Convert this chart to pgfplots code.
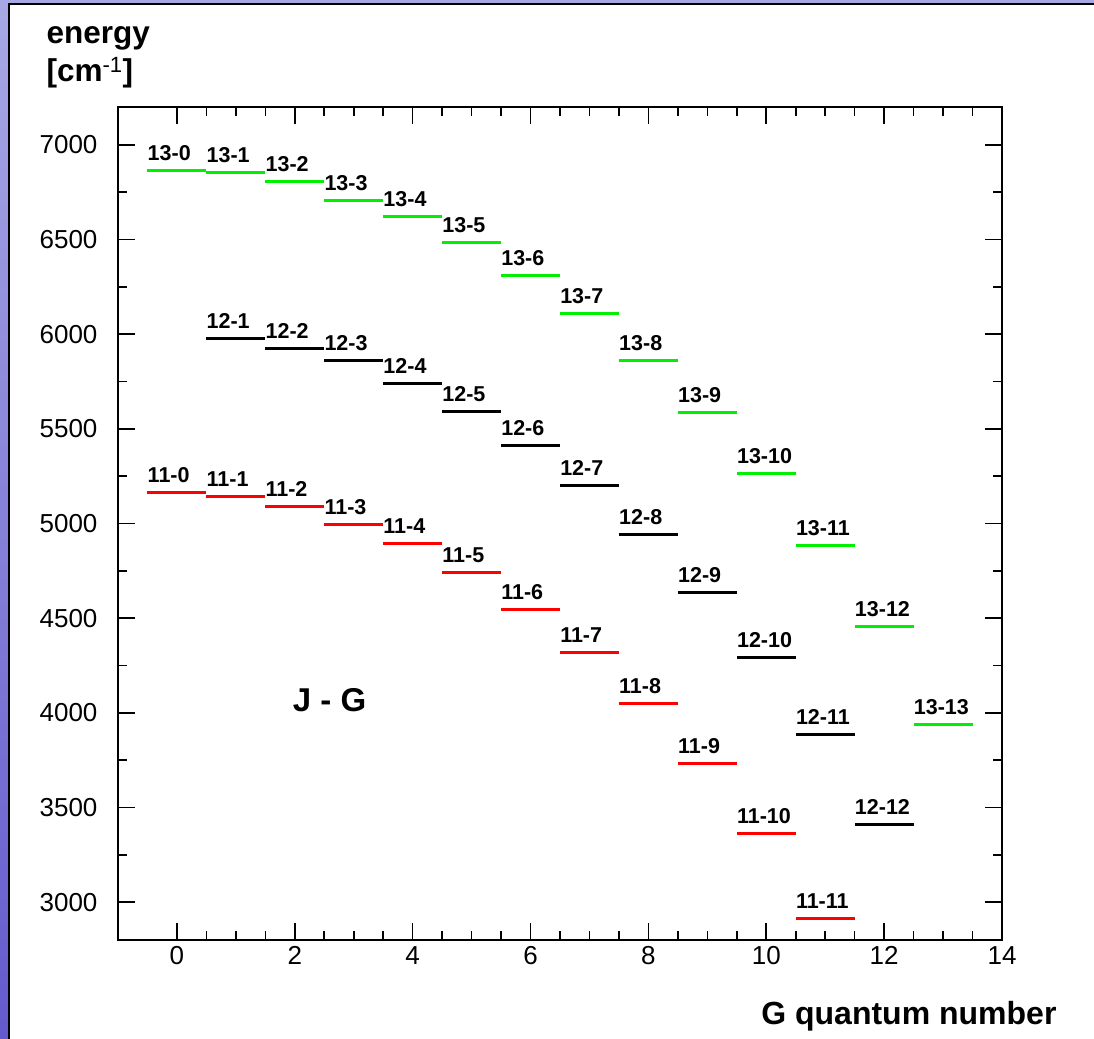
\documentclass[border=0pt]{standalone}
\usepackage{fontspec}
\setmainfont{Liberation Sans}
\usepackage{pgfplots}
\usepackage{pgfplotstable}
\pgfplotsset{compat=1.18}
\definecolor{lvgreen}{RGB}{0,240,0}
\definecolor{lvred}{RGB}{255,0,0}
\definecolor{bgtop}{RGB}{168,168,228}
\definecolor{bgbot}{RGB}{100,90,205}

\pgfplotstableread{
G E L
0 6863 13-0
1 6852 13-1
2 6808 13-2
3 6706 13-3
4 6621 13-4
5 6484 13-5
6 6310 13-6
7 6107 13-7
8 5859 13-8
9 5584 13-9
10 5264 13-10
11 4886 13-11
12 4456 13-12
13 3940 13-13
}\tabJthirteen

\pgfplotstableread{
G E L
1 5979 12-1
2 5924 12-2
3 5859 12-3
4 5741 12-4
5 5593 12-5
6 5410 12-6
7 5199 12-7
8 4942 12-8
9 4637 12-9
10 4290 12-10
11 3887 12-11
12 3408 12-12
}\tabJtwelve

\pgfplotstableread{
G E L
0 5163 11-0
1 5144 11-1
2 5088 11-2
3 4997 11-3
4 4896 11-4
5 4739 11-5
6 4546 11-6
7 4318 11-7
8 4051 11-8
9 3730 11-9
10 3362 11-10
11 2912 11-11
}\tabJeleven

\pgfplotsset{
  level/.style={
    only marks, mark=none,
    point meta=explicit symbolic,
    nodes near coords,
    every node near coord/.style={anchor=base west, inner sep=0pt,
      xshift=-29.4pt, yshift=10pt,
      font=\fontsize{21.5}{24}\selectfont\bfseries, text=black},
    error bars/.cd, x dir=both, x fixed=0.5, error mark=none,
    error bar style={line width=3pt, color=#1, line cap=butt},
  },
}

\begin{document}
\begin{tikzpicture}
\useasboundingbox (0pt,0pt) rectangle (1094pt,-1038pt);
\shade[top color=bgtop, bottom color=bgbot] (0pt,0pt) rectangle (1094pt,-1038pt);
\fill[white] (9pt,-4pt) rectangle (1100pt,-1045pt);
\draw[line width=2pt] (9pt,-1045pt) -- (9pt,-4pt) -- (1100pt,-4pt);

\begin{axis}[
  at={(118pt,-940pt)}, anchor=south west,
  scale only axis, width=884pt, height=833pt,
  xmin=-1, xmax=14, ymin=2800, ymax=7200,
  xtick={0,2,...,14}, ytick={3000,3500,...,7000},
  minor x tick num=3, minor y tick num=1,
  tick align=inside,
  major tick length=17pt, minor tick length=9pt,
  tick style={black, line width=1.6pt},
  axis line style={line width=1.8pt},
  ticklabel style={font=\fontsize{26}{30}\selectfont},
  /pgf/number format/assume math mode=true,
  /pgf/number format/set thousands separator={},
  yticklabel style={xshift=-17pt},
  xticklabel style={yshift=-3pt},
]
\addplot[level=lvgreen] table[x=G, y=E, meta=L] {\tabJthirteen};
\addplot[level=black] table[x=G, y=E, meta=L] {\tabJtwelve};
\addplot[level=lvred] table[x=G, y=E, meta=L] {\tabJeleven};
\node[font=\fontsize{33}{36}\selectfont\bfseries] at (axis cs:2.59,4069) {J - G};
\end{axis}

\node[anchor=base west, font=\fontsize{31.5}{36}\selectfont\bfseries] at (43pt,-44pt) {energy};
\node[anchor=base west, font=\fontsize{31.5}{36}\selectfont\bfseries] at (43pt,-82pt) {[cm\textsuperscript{\mdseries -1}]};
\node[anchor=base east, font=\fontsize{32}{36}\selectfont\bfseries] at (1060pt,-1024pt) {G quantum number};
\end{tikzpicture}
\end{document}
